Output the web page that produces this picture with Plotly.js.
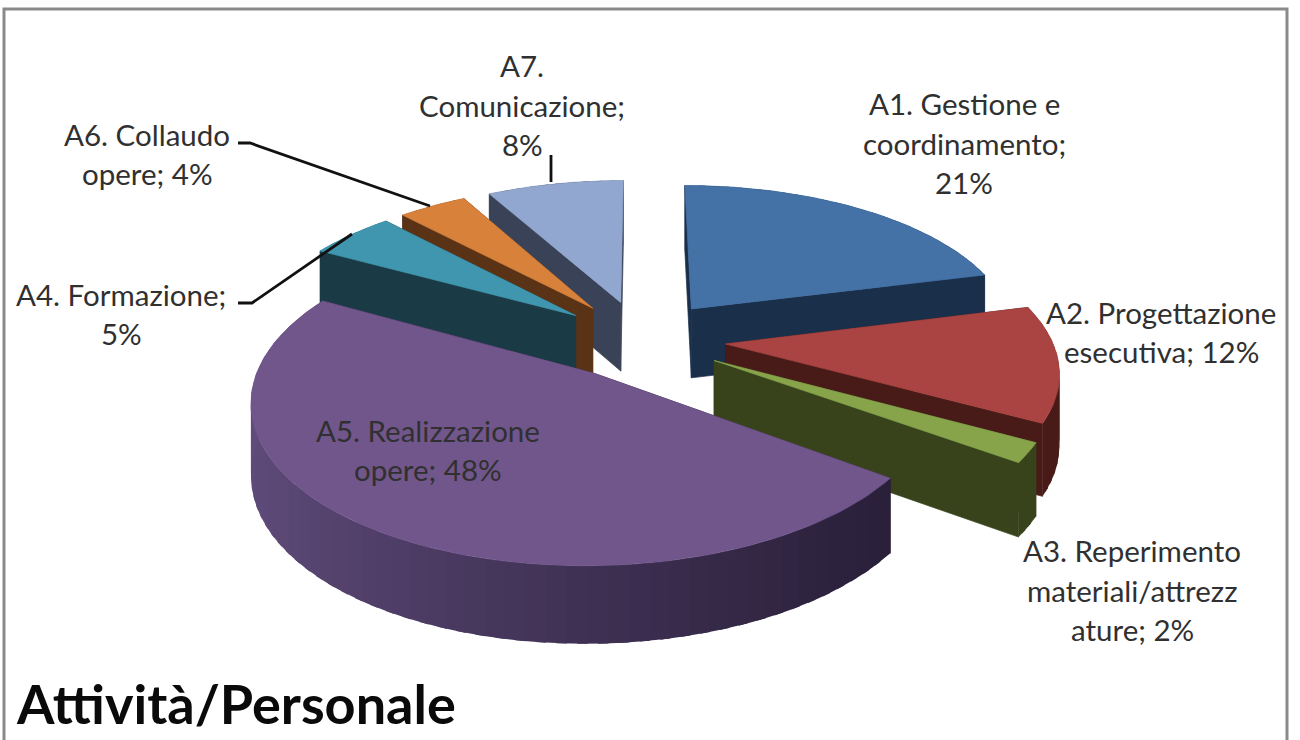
<!DOCTYPE html>
<html>
<head>
<meta charset="utf-8">
<script src="https://cdn.plot.ly/plotly-3.0.1.min.js"></script>
<style>html,body{margin:0;padding:0;background:#fff}#chart{width:1300px;height:740px}</style>
</head>
<body>
<div id="chart"></div>
<script>
// --- data (clockwise from twelve o'clock) ---
const categories = ["A1. Gestione e coordinamento","A2. Progettazione esecutiva","A3. Reperimento materiali/attrezzature","A5. Realizzazione opere","A4. Formazione","A6. Collaudo opere","A7. Comunicazione"];
const values = [21,12,2,48,5,4,8];
const labelPrefixes = ["A1. Gestione e<br>coordinamento;<br>","A2. Progettazione<br>esecutiva; ","A3. Reperimento<br>materiali/attrezz<br>ature; ","A5. Realizzazione<br>opere; ","A4. Formazione;<br>","A6. Collaudo<br>opere; ","A7.<br>Comunicazione;<br>"];
const chartTitle = "Attività/Personale";

// --- styling ---
const topColors = ["#4471a6","#a94442","#87a44b","#71568c","#4096ae","#d8813b","#92a7cf"];
const wallColors = ["#1a2f4a","#481b18","#38431c","#271d36","#1a3b46","#5a3317","#3a4257"];
const wallLightColors = ["#1a2f4a","#481b18","#38431c","#604c7c","#1a3b46","#5a3317","#3a4257"];
const labelCenters = [[964,143],[1161,332],[1132,590],[428,450],[121,314],[147,154],[522,105]];
const paintOrder = [0,6,5,4,1,2,3];
const explode = 0.26;
const view = {cx:641, cy:339, rx:326, ry:151, q:0.154, depth:70};
const lineGap = 39.5;

// --- projection of the tilted disc ---
function project(u, v, down) {
  const w = 1 / (1 + view.q * v);
  return [view.cx + view.rx * u * w,
          view.cy - view.ry * v * w + (down ? view.depth * (1 + (w - 1) * 0.5) : 0)];
}
const hexRgb = h => [1,3,5].map(i => parseInt(h.substr(i,2),16));
function mix(a, b, t) {
  const A = hexRgb(a), B = hexRgb(b);
  return "rgb(" + A.map((c,i) => Math.round(c + (B[i]-c)*t)).join(",") + ")";
}
function poly(points, color, text, lineWidth) {
  const xs = points.map(p => p[0]).concat(points[0][0]);
  const ys = points.map(p => p[1]).concat(points[0][1]);
  const t = {type:"scatter", mode:"lines", x:xs, y:ys, fill:"toself", fillcolor:color,
             line:{color:color, width:lineWidth === undefined ? 0.7 : lineWidth}, showlegend:false, hoverinfo:"skip"};
  if (text) { t.hoverinfo = "text"; t.text = text; t.hoveron = "fills"; }
  return t;
}

const total = values.reduce((a,b) => a+b, 0);
let running = 0;
const slices = values.map((v,i) => {
  const a0 = running / total * 2 * Math.PI;
  running += v;
  const a1 = running / total * 2 * Math.PI;
  const mid = (a0 + a1) / 2;
  return {i, a0, a1, ox: explode*Math.sin(mid), oy: explode*Math.cos(mid)};
});

const traces = [];
paintOrder.forEach(idx => {
  const s = slices[idx];
  const P = (a, down) => project(s.ox + Math.sin(a), s.oy + Math.cos(a), down);
  const A = down => project(s.ox, s.oy, down);
  // radial walls
  traces.push(poly([A(false),P(s.a0,false),P(s.a0,true),A(true)], wallColors[idx]));
  traces.push(poly([A(false),P(s.a1,false),P(s.a1,true),A(true)], wallColors[idx]));
  // outer wall as shaded strips, overlapping so no seams show
  const nWall = Math.max(2, Math.ceil((s.a1 - s.a0) / (3*Math.PI/180)));
  for (let k = 0; k < nWall; k++) {
    const b0 = s.a0 + (s.a1-s.a0)*k/nWall, b1 = s.a0 + (s.a1-s.a0)*(k+1)/nWall;
    const shade = Math.pow((1 - Math.sin((b0+b1)/2)) / 2, 1.25);
    const over = k < nWall-1 ? (s.a1-s.a0)/nWall*0.5 : 0;
    traces.push(poly([P(b0,false),P(b1+over,false),P(b1+over,true),P(b0,true)],
                     mix(wallColors[idx], wallLightColors[idx], shade), null, 0));
  }
  // top face
  const nTop = Math.max(3, Math.ceil((s.a1 - s.a0) / (1.5*Math.PI/180)));
  const top = [A(false)];
  for (let k = 0; k <= nTop; k++) top.push(P(s.a0 + (s.a1-s.a0)*k/nTop, false));
  traces.push(poly(top, topColors[idx], categories[idx] + ": " + values[idx] + "%"));
});

// --- labels, one annotation per line so the line spacing can match ---
const annotations = [];
labelPrefixes.forEach((pre,i) => {
  const lines = (pre + values[i] + "%").split("<br>");
  lines.forEach((ln,k) => annotations.push({
    xref:"x", yref:"y", x:labelCenters[i][0], y:labelCenters[i][1] + (k-(lines.length-1)/2)*lineGap,
    text:ln, showarrow:false, xanchor:"center", yanchor:"middle",
    font:{family:"Lato, sans-serif", size:29.5, color:"#303030"}
  }));
});
annotations.push({xref:"x", yref:"y", x:14, y:703, text:"<b>"+chartTitle+"</b>", showarrow:false,
  xanchor:"left", yanchor:"middle", font:{family:"Lato, sans-serif", size:54, color:"#0a0a0a"}});

const leader = {type:"path", line:{color:"#111", width:2.8}, layer:"above"};
const shapes = [
  {type:"path", path:"M4,740 L4,9 L1287,9 L1287,740", line:{color:"#8a8a8a", width:3}, layer:"below"},
  Object.assign({path:"M551,155 L551,182"}, leader),
  Object.assign({path:"M238,143 L250,143 L430,206"}, leader),
  Object.assign({path:"M238,303 L252,303 L352,234"}, leader)
];

Plotly.newPlot("chart", traces, {
  width:1300, height:740, margin:{l:0,r:0,t:0,b:0}, autosize:false,
  paper_bgcolor:"#fff", plot_bgcolor:"#fff", showlegend:false, hovermode:"closest",
  xaxis:{range:[0,1300], visible:false, fixedrange:true},
  yaxis:{range:[740,0], visible:false, fixedrange:true},
  annotations, shapes
}, {displayModeBar:false});
</script>
</body>
</html>
